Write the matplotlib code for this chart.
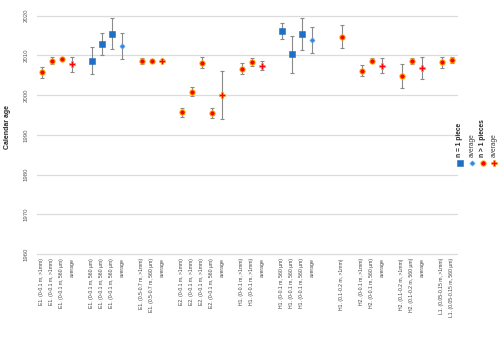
import numpy as np
import matplotlib
matplotlib.use("Agg")
import matplotlib.pyplot as plt
from matplotlib.lines import Line2D

plt.rcParams['font.family'] = ['Liberation Sans', 'DejaVu Sans']

# category labels ('' = empty gap column)
labels = [
    'E1. (0-0.1 m, >1mm)', 'E1. (0-0.1 m, >1mm)', 'E1. (0-0.1 m, 560 µm)', 'average', '',
    'E1. (0-0.1 m, 560 µm)', 'E1. (0-0.1 m, 560 µm)', 'E1. (0-0.1 m, 560 µm)', 'average', '',
    'E1. (0.5-0.7 m, >1mm)', 'E1. (0.5-0.7 m, 560 µm)', 'average', '',
    'E2. (0-0.1 m, >1mm)', 'E2. (0-0.1 m, >1mm)', 'E2. (0-0.1 m, >1mm)', 'E2. (0-0.1 m, 560 µm)', 'average', '',
    'H1. (0-0.1 m, >1mm)', 'H1. (0-0.1 m, >1mm)', 'average', '',
    'H1. (0-0.1 m, 560 µm)', 'H1. (0-0.1 m, 560 µm)', 'H1. (0-0.1 m, 560 µm)', 'average', '', '',
    'H1. (0.1-0.2 m, >1mm)', '',
    'H2. (0-0.1 m, >1mm)', 'H2. (0-0.1 m, 560 µm)', 'average', '',
    'H2. (0.1-0.2 m, >1mm)', 'H2. (0.1-0.2 m, 560 µm)', 'average', '',
    'L1. (0.05-0.15 m, >1mm)', 'L1. (0.05-0.15 m, 560 µm)',
]

# calendar age and error (+/-), None for gap columns
age = [
    2005.7, 2008.7, 2009.1, 2007.75, None,
    2008.7, 2012.85, 2015.4, 2012.35, None,
    2008.6, 2008.7, 2008.7, None,
    1995.7, 2000.9, 2008.2, 1995.5, 2000.0, None,
    2006.7, 2008.35, 2007.4, None,
    2016.2, 2010.3, 2015.4, 2013.8, None, None,
    2014.75, None,
    2006.2, 2008.7, 2007.4, None,
    2004.9, 2008.6, 2006.85, None,
    2008.25, 2008.75,
]
err = [
    1.4, 0.8, 0.3, 1.8, None,
    3.3, 2.85, 3.9, 3.3, None,
    0.85, 0.5, 0.3, None,
    1.15, 1.15, 1.3, 1.2, 6.0, None,
    1.4, 1.0, 1.1, None,
    1.95, 4.65, 4.0, 3.25, None, None,
    2.9, None,
    1.5, 0.6, 1.85, None,
    3.0, 0.65, 2.7, None,
    1.3, 0.75,
]
# series: 's' n=1 piece, 'sa' its average, 'm' n>1 pieces, 'ma' its average
kind = [
    'm', 'm', 'm', 'ma', '',
    's', 's', 's', 'sa', '',
    'm', 'm', 'ma', '',
    'm', 'm', 'm', 'm', 'ma', '',
    'm', 'm', 'ma', '',
    's', 's', 's', 'sa', '', '',
    'm', '',
    'm', 'm', 'ma', '',
    'm', 'm', 'ma', '',
    'm', 'm',
]

styles = {
    's':  dict(marker='s', ms=3.8, mfc='#1f6fc4', mec='#1f6fc4', mew=0.4),
    'sa': dict(marker='D', ms=2.6, mfc='#2f86dc', mec='#5aa5ea', mew=0.5),
    'm':  dict(marker='o', ms=3.8, mfc='#ff0000', mec='#ffb000', mew=0.7),
    'ma': dict(marker='P', ms=4.0, mfc='#ff0000', mec='#ffb000', mew=0.4),
}

fig = plt.figure(figsize=(5.02, 3.39), dpi=100)
ax = fig.add_axes([37 / 502, 1 - 254 / 339, 420 / 502, (254 - 15.7) / 339])

x = np.arange(len(labels))
for k, st in styles.items():
    idx = [i for i in range(len(labels)) if kind[i] == k]
    xs = x[idx]
    ys = [age[i] for i in idx]
    es = [err[i] for i in idx]
    ax.errorbar(xs, ys, yerr=es, fmt='none', ecolor='#8a8a8a', elinewidth=0.8,
                capsize=1.6, capthick=0.8, zorder=3)
    ax.plot(xs, ys, ls='none', zorder=4, **st)

ax.set_xlim(-0.5, len(labels) - 0.5)
ax.set_ylim(1960, 2020)
ax.set_yticks(np.arange(1960, 2021, 10))
ax.set_yticklabels([str(v) for v in range(1960, 2021, 10)], rotation=90,
                   fontsize=4.3, color='#595959', va='center')
ax.set_xticks(x)
ax.set_xticklabels(labels, rotation=90, fontsize=3.7, color='#404040')
ax.tick_params(axis='both', length=0)
ax.tick_params(axis='x', pad=3)
ax.tick_params(axis='y', pad=6)
ax.grid(axis='y', color='#dcdcdc', lw=0.9)
for gl in ax.get_ygridlines():
    gl.set_clip_on(False)
ax.set_axisbelow(True)
for s in ax.spines.values():
    s.set_visible(False)

fig.text(8 / 502, 1 - 127 / 339, 'Calendar age', rotation=90, fontsize=5,
         fontweight='bold', ha='center', va='center', color='#262626')

# legend (rotated, right side)
leg_names = ['n = 1 piece', 'average', 'n > 1 pieces', 'average']
leg_kinds = ['s', 'sa', 'm', 'ma']
leg_bold = [True, False, True, False]
leg_x = [460, 472, 483, 494]
for name, k, b, px in zip(leg_names, leg_kinds, leg_bold, leg_x):
    fx = px / 502
    fig.text(fx, 1 - 157 / 339, name, rotation=90, fontsize=4.8,
             fontweight='bold' if b else 'normal', ha='center', va='bottom',
             color='#262626' if b else '#404040')
    fig.add_artist(Line2D([fx], [1 - 163 / 339], transform=fig.transFigure,
                          ls='none', **styles[k]))

fig.savefig('out.png', dpi=100)
